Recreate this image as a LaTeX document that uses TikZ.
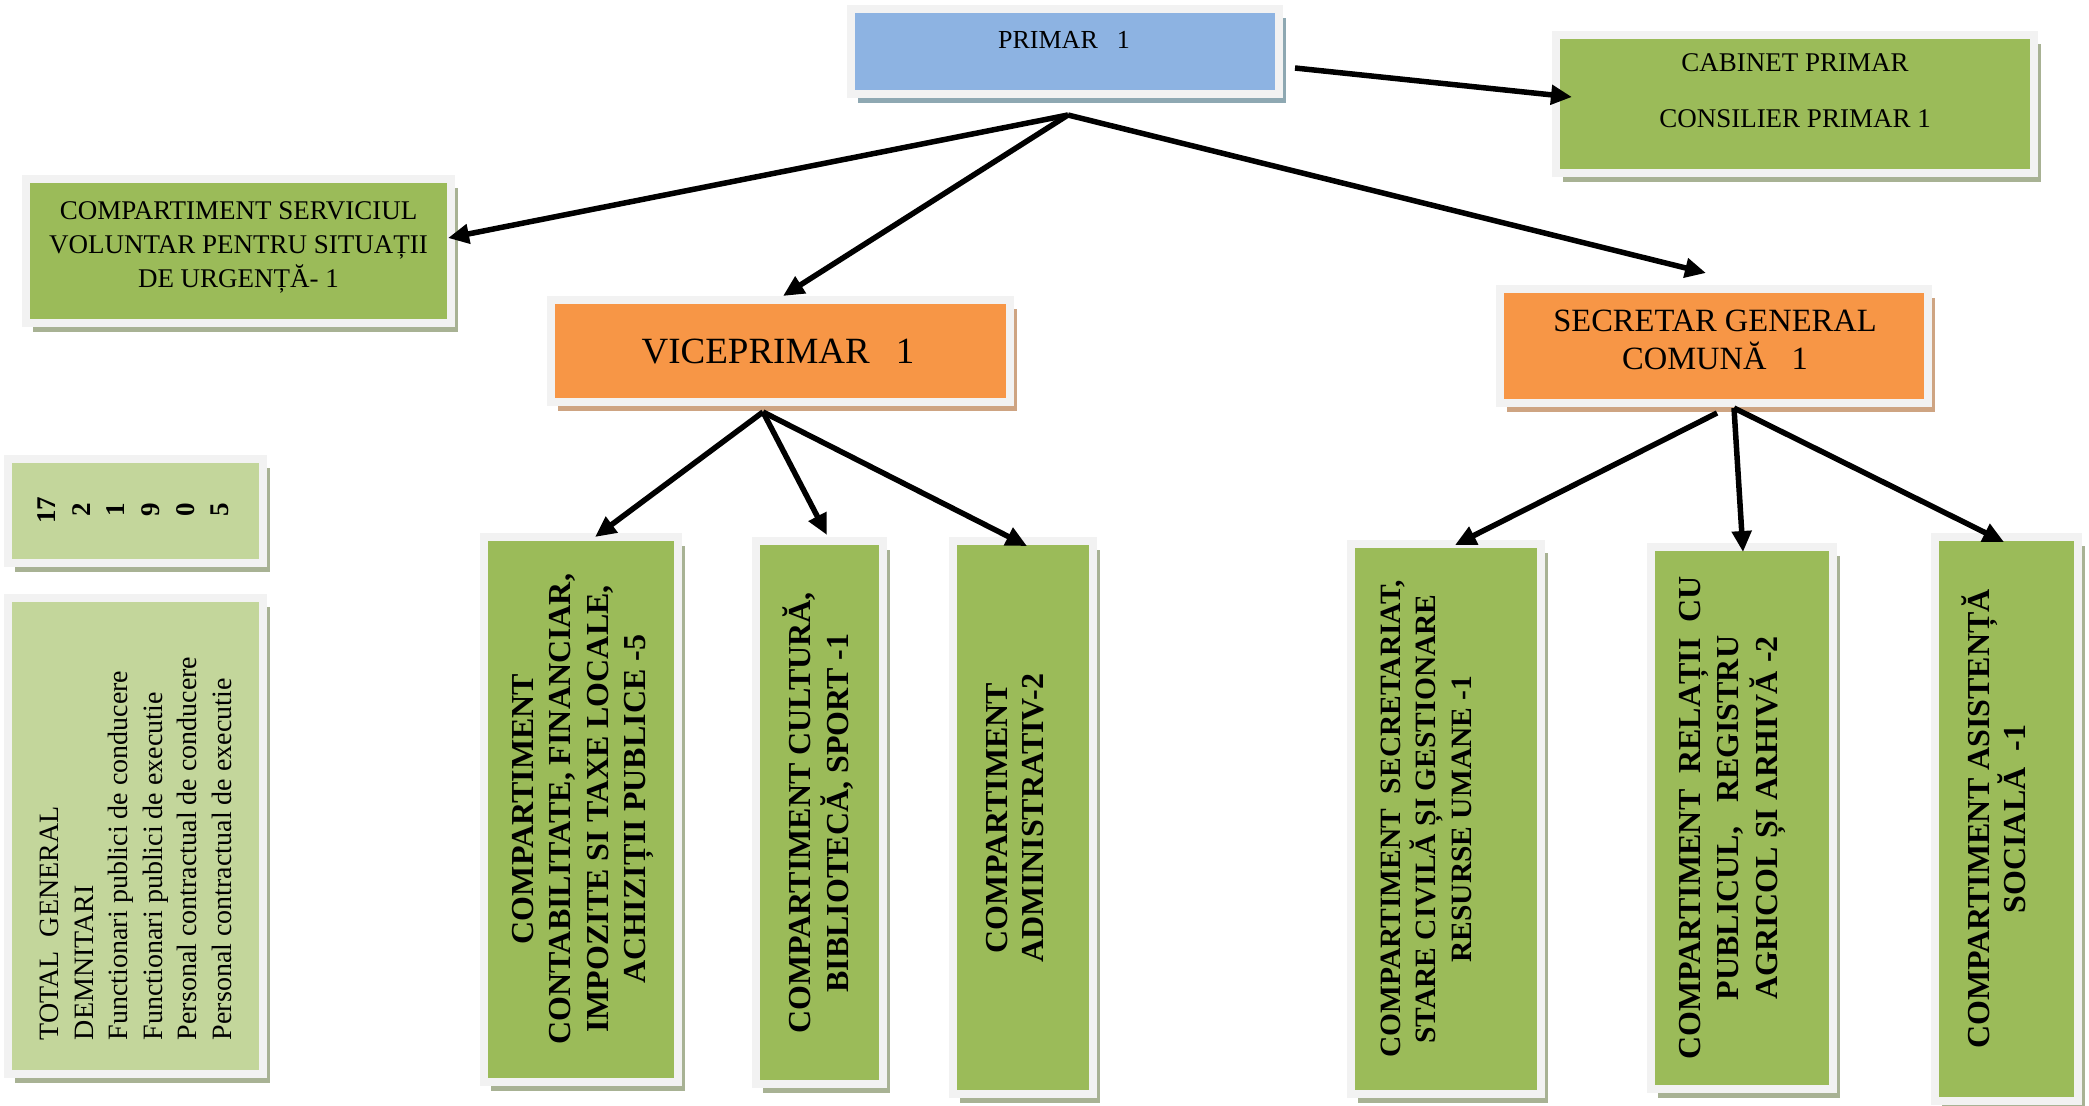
\documentclass[tikz,border=0pt]{standalone}
\usepackage{fontspec}
\setmainfont{Liberation Serif}
\usetikzlibrary{arrows.meta,shadows,calc}
\definecolor{framecol}{HTML}{F2F2F2}
\definecolor{gfill}{HTML}{9BBB59}
\definecolor{lgfill}{HTML}{C3D69B}
\definecolor{ofill}{HTML}{F79646}
\definecolor{bfill}{HTML}{8DB3E2}
\definecolor{gshadow}{RGB}{168,178,148}
\definecolor{oshadow}{RGB}{206,164,130}
\definecolor{bshadow}{RGB}{142,168,178}
\begin{document}
\begin{tikzpicture}[x=1pt,y=-1pt,
  boxbase/.style={draw=framecol, line width=8pt, inner sep=0pt, outer sep=0pt},
  gbox/.style={boxbase, fill=gfill, drop shadow={shadow xshift=7pt, shadow yshift=-9pt, fill=gshadow, opacity=1}},
  lgbox/.style={boxbase, fill=lgfill, drop shadow={shadow xshift=7pt, shadow yshift=-9pt, fill=gshadow, opacity=1}},
  obox/.style={boxbase, fill=ofill, drop shadow={shadow xshift=7pt, shadow yshift=-9pt, fill=oshadow, opacity=1}},
  bbox/.style={boxbase, fill=bfill, drop shadow={shadow xshift=7pt, shadow yshift=-9pt, fill=bshadow, opacity=1}},
  arr/.style={line width=5.5pt, -{Triangle[length=21pt,width=19pt]}},
  txt/.style={inner sep=0pt, outer sep=0pt, text=black},
  vtxt/.style={txt, rotate=90, align=center},
]
\useasboundingbox[fill=white] (0,0) rectangle (2089,1106);

% boxes
\node[bbox, minimum width=428pt, minimum height=85pt] (P) at (1065,51.5) {};
\node[gbox, minimum width=478pt, minimum height=138pt] (C) at (1795,104) {};
\node[gbox, minimum width=425pt, minimum height=144pt] (S) at (238.5,251) {};
\node[obox, minimum width=459pt, minimum height=102pt] (V) at (780.5,351) {};
\node[obox, minimum width=428pt, minimum height=114pt] (SG) at (1714,346) {};
\node[lgbox, minimum width=255pt, minimum height=104pt] (N) at (135.5,511) {};
\node[lgbox, minimum width=255pt, minimum height=476pt] (L) at (135.5,836) {};
\node[gbox, minimum width=194pt, minimum height=545pt] (B1) at (581,809.5) {};
\node[gbox, minimum width=127pt, minimum height=543pt] (B2) at (819.5,812.5) {};
\node[gbox, minimum width=140pt, minimum height=553pt] (B3) at (1023,817.5) {};
\node[gbox, minimum width=190pt, minimum height=550pt] (B4) at (1446,819) {};
\node[gbox, minimum width=182pt, minimum height=542pt] (B5) at (1742,818) {};
\node[gbox, minimum width=143pt, minimum height=564pt] (B6) at (2006.5,819) {};

% texts
\node[txt, font=\fontsize{26}{30}\selectfont, anchor=base] (tP) at (1064,48) {PRIMAR\hspace{19pt}1};
\node[txt, font=\fontsize{27}{56}\selectfont, align=center] (tC) at (1795,91) {CABINET PRIMAR\\CONSILIER PRIMAR 1};
\node[txt, font=\fontsize{27}{34}\selectfont, align=center] (tS) at (238.5,247) {COMPARTIMENT SERVICIUL\\VOLUNTAR PENTRU SITUAȚII\\DE URGENȚĂ- 1};
\node[txt, font=\fontsize{37}{44}\selectfont, anchor=base] (tV) at (778,363) {VICEPRIMAR\hspace{26pt}1};
\node[txt, font=\fontsize{32.5}{38}\selectfont, align=center] (tSG) at (1715,340) {SECRETAR GENERAL\\COMUNĂ\hspace{25pt}1};
\node[vtxt, font=\bfseries\fontsize{27}{34.6}\selectfont] (tN) at (133.5,510) {17\\2\\1\\9\\0\\5};
\node[txt, rotate=90, anchor=north west, align=left, font=\fontsize{28}{34.6}\selectfont] (tL) at (40,1040)
  {TOTAL\ \ GENERAL\\DEMNITARI\\Functionari publici de conducere\\Functionari publici de executie\\Personal contractual de conducere\\Personal contractual de executie};
\node[vtxt, font=\bfseries\fontsize{32}{37.3}\selectfont] (t1) at (583,809)
  {COMPARTIMENT\\CONTABILITATE, FINANCIAR,\\IMPOZITE SI TAXE LOCALE,\\ACHIZIȚII PUBLICE -5};
\node[vtxt, font=\bfseries\fontsize{32}{38}\selectfont] (t2) at (818,813)
  {COMPARTIMENT CULTURĂ,\\BIBLIOTECĂ, SPORT -1};
\node[vtxt, font=\bfseries\fontsize{32}{36}\selectfont] (t3) at (1015,818)
  {COMPARTIMENT\\ADMINISTRATIV-2};
\node[vtxt, font=\bfseries\fontsize{29.5}{35.5}\selectfont] (t4) at (1426,819)
  {COMPARTIMENT\ \ SECRETARIAT,\\STARE CIVILĂ ȘI GESTIONARE\\RESURSE UMANE -1};
\node[vtxt, font=\bfseries\fontsize{32}{38.5}\selectfont] (t5) at (1732,818)
  {COMPARTIMENT\ \ RELAȚII\ \ CU\\PUBLICUL,\ \ \ REGISTRU\\AGRICOL ȘI ARHIVĂ -2};
\node[vtxt, font=\bfseries\fontsize{32}{36}\selectfont] (t6) at (1994,819)
  {COMPARTIMENT ASISTENȚĂ\\SOCIALĂ\ \ -1};

% connectors
\coordinate (pa) at ($(P.south)+(3,21)$);
\coordinate (va) at ($(V.south)+(-17.5,10)$);
\coordinate (sl) at ($(SG.south)+(3,10)$);
\coordinate (sm) at ($(SG.south)+(20,5)$);
\draw[arr] ($(P.east)+(16,16.5)$) -- ($(C.west)+(16,-7)$);
\draw[arr] (pa) -- ($(S.east)+(-3,-13)$);
\draw[arr] (pa) -- ($(V.north)+(2.5,-4)$);
\draw[arr] (pa) -- ($(SG.north)+(-8,-16)$);
\draw[arr] (va) -- ($(B1.north)+(14,0)$);
\draw[arr] (va) -- ($(B2.north)+(7.5,-6)$);
\draw[arr] (va) -- ($(B3.north)+(4,5)$);
\draw[arr] (sl) -- ($(B4.north)+(9,1)$);
\draw[arr] (sm) -- ($(B5.north)+(1,5)$);
\draw[arr] (sm) -- ($(B6.north)+(-2.5,5)$);
\end{tikzpicture}
\end{document}
